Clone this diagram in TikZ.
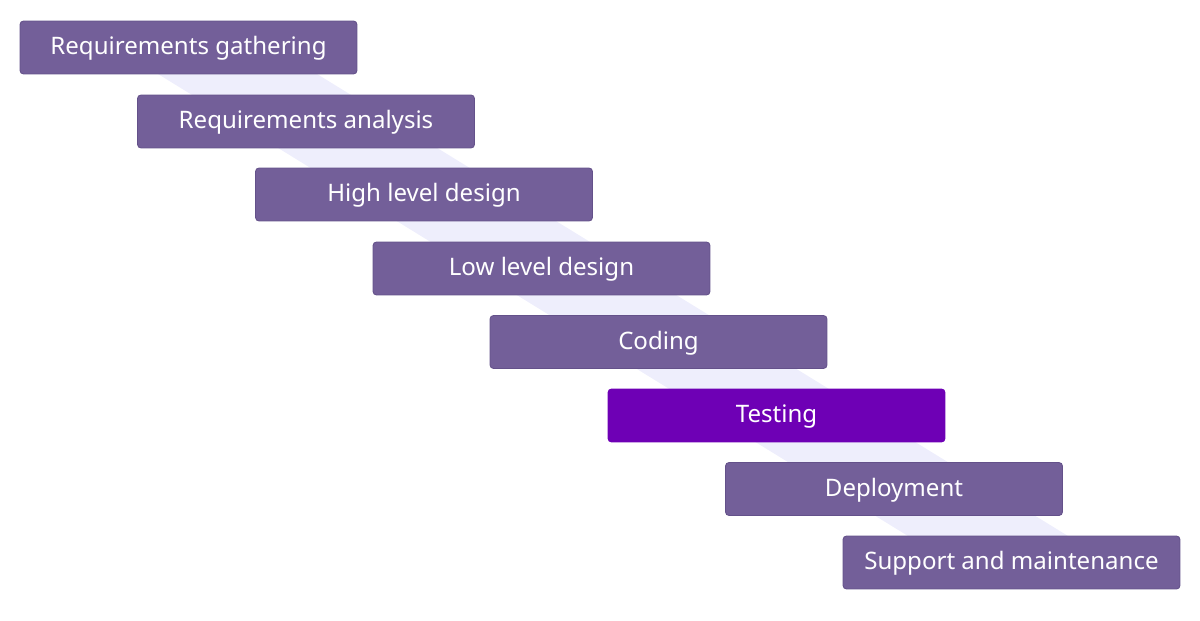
\documentclass[tikz,border=0pt]{standalone}
\usepackage{fontspec}
\setmainfont{Noto Sans}
\definecolor{stepfill}{HTML}{735F99}
\definecolor{stepline}{HTML}{64518A}
\definecolor{testfill}{HTML}{6E00B5}
\definecolor{bandfill}{HTML}{EEEEFC}
\tikzset{
    stage/.style = {draw = stepline, fill = stepfill, rounded corners = 2pt, line width = 0.5pt,
        minimum width = 6.74cm, minimum height = 1.06cm, text height = 10pt, text depth = 1.5pt,
        text = white, font = \fontsize{13.7}{15}\selectfont},
    current/.style = {stage, draw = testfill, fill = testfill}
}
\begin{document}
\begin{tikzpicture}[x = 0.02cm, y = -0.02cm]
        \useasboundingbox (0,0) rectangle (1200,621);
        \fill[bandfill] (158,74) -- (317,74) -- (1068,536) -- (908,536) -- cycle;

        \node[stage] (gather) at (188.5,47.5) {Requirements gathering};
        \node[stage] (analysis) at (306,121.5) {Requirements analysis};
        \node[stage] (hld) at (424,194.5) {High level design};
        \node[stage] (lld) at (541.5,268.5) {Low level design};
        \node[stage] (coding) at (658.5,342) {Coding};
        \node[current] (testing) at (776.5,415.5) {Testing};
        \node[stage] (deploy) at (894,489) {Deployment};
        \node[stage] (support) at (1011.5,562.5) {Support and maintenance};
    \end{tikzpicture}
\end{document}
